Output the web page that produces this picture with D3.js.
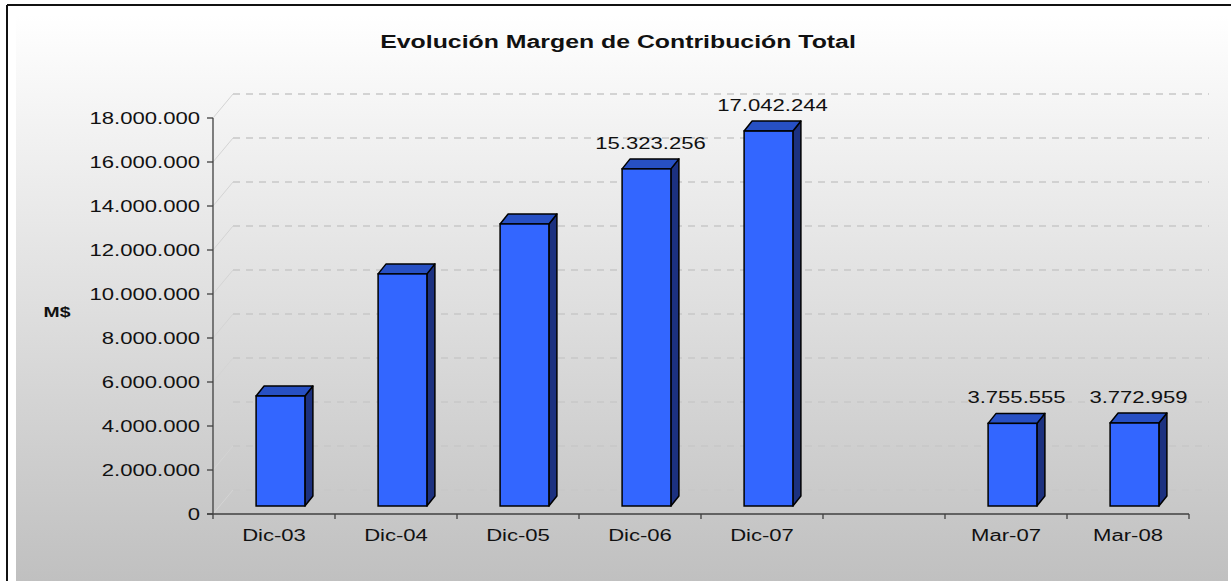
<!DOCTYPE html>
<html>
<head>
<meta charset="utf-8">
<title>Evolución Margen de Contribución Total</title>
<script src="https://cdn.jsdelivr.net/npm/d3@7/dist/d3.min.js"></script>
<style>
  body { margin: 0; background: #fff; }
  text { font-family: "Liberation Sans", Arial, sans-serif; fill: #111; }
</style>
</head>
<body>
<script>
// datos del grafico
var categories = ["Dic-03", "Dic-04", "Dic-05", "Dic-06", "Dic-07", " ", "Mar-07", "Mar-08"];
var values = [5000000, 10550000, 12820000, 15323256, 17042244, null, 3755555, 3772959];
var showLabel = [false, false, false, true, true, false, true, true];
var yTicks = [0, 2000000, 4000000, 6000000, 8000000, 10000000, 12000000, 14000000, 16000000, 18000000];

var W = 1231, H = 581;
var stretch = 1.38; // el original esta estirado en horizontal

var svg = d3.select("body").append("svg")
    .attr("width", W)
    .attr("height", H);

// fondo degradado
var defs = svg.append("defs");
var grad = defs.append("linearGradient")
    .attr("id", "bg")
    .attr("x1", 0).attr("y1", 0).attr("x2", 0).attr("y2", 1);
grad.append("stop").attr("offset", "0%").attr("stop-color", "#ffffff");
grad.append("stop").attr("offset", "100%").attr("stop-color", "#c0c0c0");

svg.append("rect").attr("x", 0).attr("y", 0).attr("width", W).attr("height", H).attr("fill", "#fff");
svg.append("rect").attr("x", 16).attr("y", 14).attr("width", 1212).attr("height", H - 14).attr("fill", "url(#bg)");
// borde
svg.append("line").attr("x1", 7).attr("y1", 5).attr("x2", W).attr("y2", 5)
    .attr("stroke", "#111").attr("stroke-width", 2);
svg.append("line").attr("x1", 7).attr("y1", 5).attr("x2", 7).attr("y2", H)
    .attr("stroke", "#111").attr("stroke-width", 2);

// escalas
var x = d3.scaleBand().domain(categories).range([213, 1189]).padding(0);
var y = d3.scaleLinear().domain([0, 18000000]).range([514, 118]);
var bw = x.bandwidth();

// profundidad 3D
var depth = {dx: 20, dy: -24};
var front = {dx: 6.5, dy: -8};
var side = {dx: 8, dy: -10};
var barW = bw * 0.4;

var fmt = d3.formatLocale({decimal: ",", thousands: ".", grouping: [3], currency: ["$", ""]}).format(",d");

function stext(g, tx, ty, str, anchor, size, weight) {
    return g.append("g")
        .attr("transform", "translate(" + tx + "," + ty + ")")
        .append("text")
        .attr("transform", "scale(" + stretch + ",1)")
        .attr("text-anchor", anchor)
        .style("font-size", size + "px")
        .style("font-weight", weight || "normal")
        .text(str);
}

// lineas de grilla (pared del fondo)
var grid = svg.append("g");
grid.selectAll(".grid")
    .data(yTicks)
    .enter()
    .append("line")
    .attr("class", "grid")
    .attr("x1", 213 + depth.dx)
    .attr("x2", 1189 + depth.dx)
    .attr("y1", function(d){ return y(d) + depth.dy; })
    .attr("y2", function(d){ return y(d) + depth.dy; })
    .attr("stroke", "#c8c8c8")
    .attr("stroke-width", 1.3)
    .attr("stroke-dasharray", "7,6");
grid.selectAll(".diag")
    .data(yTicks)
    .enter()
    .append("line")
    .attr("class", "diag")
    .attr("x1", 213)
    .attr("x2", 213 + depth.dx)
    .attr("y1", function(d){ return y(d); })
    .attr("y2", function(d){ return y(d) + depth.dy; })
    .attr("stroke", "#d4d4d4")
    .attr("stroke-width", 1);

// barras 3D
var bars = svg.append("g");
categories.forEach(function(c, i){
    var v = values[i];
    if (v == null) return;
    var x0 = x(c) + bw / 2 - barW / 2 + front.dx;
    var x1 = x0 + barW;
    var yb = y(0) + front.dy;
    var yt = y(v) + front.dy;
    var g = bars.append("g");
    // lado
    g.append("path")
        .attr("d", "M" + x1 + "," + yt + "L" + (x1 + side.dx) + "," + (yt + side.dy) +
            "L" + (x1 + side.dx) + "," + (yb + side.dy) + "L" + x1 + "," + yb + "Z")
        .attr("fill", "#1c3180").attr("stroke", "#000").attr("stroke-width", 1.5)
        .attr("stroke-linejoin", "round");
    // tapa
    g.append("path")
        .attr("d", "M" + x0 + "," + yt + "L" + (x0 + side.dx) + "," + (yt + side.dy) +
            "L" + (x1 + side.dx) + "," + (yt + side.dy) + "L" + x1 + "," + yt + "Z")
        .attr("fill", "#2750c4").attr("stroke", "#000").attr("stroke-width", 1.5)
        .attr("stroke-linejoin", "round");
    // frente
    g.append("rect")
        .attr("x", x0).attr("y", yt)
        .attr("width", barW).attr("height", yb - yt)
        .attr("fill", "#3366ff").attr("stroke", "#000").attr("stroke-width", 1.5);

    if (showLabel[i]) {
        stext(svg, x0 + barW / 2 + side.dx / 2, yt + side.dy - 10, fmt(v), "middle", 16);
    }
});

// eje Y
var axisCol = "#404040";
svg.append("line").attr("x1", 213).attr("x2", 213).attr("y1", y(18000000)).attr("y2", y(0) + 5)
    .attr("stroke", axisCol).attr("stroke-width", 1.3);
yTicks.forEach(function(t){
    svg.append("line").attr("x1", 207).attr("x2", 213).attr("y1", y(t)).attr("y2", y(t))
        .attr("stroke", axisCol).attr("stroke-width", 1.3);
    stext(svg, 200, y(t) + 6, fmt(t), "end", 16);
});

// eje X
svg.append("line").attr("x1", 207).attr("x2", 1189).attr("y1", y(0)).attr("y2", y(0))
    .attr("stroke", axisCol).attr("stroke-width", 1.3);
categories.forEach(function(c){
    svg.append("line").attr("x1", x(c) + bw).attr("x2", x(c) + bw).attr("y1", y(0)).attr("y2", y(0) + 5)
        .attr("stroke", axisCol).attr("stroke-width", 1.3);
    if (c.trim() !== "") stext(svg, x(c) + bw / 2, 541, c, "middle", 16);
});

// titulos
stext(svg, 618, 48, "Evolución Margen de Contribución Total", "middle", 18, "bold");
stext(svg, 57, 317, "M$", "middle", 14, "bold");
</script>
</body>
</html>
